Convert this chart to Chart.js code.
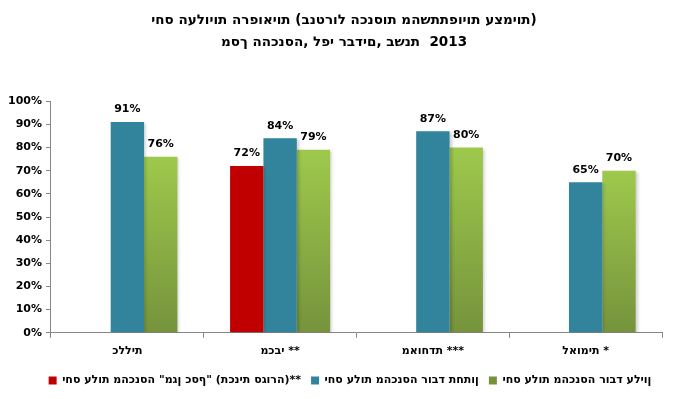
<!DOCTYPE html>
<html lang="he">
<head>
<meta charset="utf-8">
<script src="https://cdn.jsdelivr.net/npm/chart.js@4"></script>
<style>
  body { margin: 0; background: #fff; }
  #wrap { width: 695px; height: 399px; position: relative; }
</style>
</head>
<body>
<div id="wrap"><canvas id="chart"></canvas></div>
<script>
const categories = ["כללית", "מכבי **", "מאוחדת ***", "לאומית *"];
const silverValues = [null, 72, null, null];
const lowerValues = [91, 84, 87, 65];
const upperValues = [76, 79, 80, 70];
const yTicks = [0, 10, 20, 30, 40, 50, 60, 70, 80, 90, 100];

const titleLines = [
  "יחס העלויות הרפואיות (בנטרול הכנסות מהשתתפויות עצמיות)",
  "מסך ההכנסה, לפי רבדים, בשנת  2013"
];
const seriesNames = [
  "יחס עלות מהכנסה \"מגן כסף\" (תכנית סגורה)**",
  "יחס עלות מהכנסה רובד תחתון",
  "יחס עלות מהכנסה רובד עליון"
];

const FONT = "'DejaVu Sans', Verdana, sans-serif";

// the source chart shows the Hebrew glyphs left to right, so force that order
const ltr = s => "\u202D" + s + "\u202C";

// soft shadow behind the bars
const barShadow = {
  id: "barShadow",
  beforeDatasetsDraw(chart) {
    const ctx = chart.ctx;
    ctx.save();
    ctx.shadowColor = "rgba(0,0,0,0.2)";
    ctx.shadowBlur = 3;
    ctx.shadowOffsetX = 2;
    ctx.shadowOffsetY = 1;
  },
  afterDatasetsDraw(chart) {
    chart.ctx.restore();
  }
};

// title and legend sit a bit right of the plot centre in the source
const nudge = {
  id: "nudge",
  afterLayout(chart) {
    chart.titleBlock.left += 11;
    chart.titleBlock.right += 11;
    chart.legend.left += 17;
    chart.legend.right += 17;
  }
};

// value labels above each bar
const barLabels = {
  id: "barLabels",
  afterDatasetsDraw(chart) {
    const ctx = chart.ctx;
    ctx.save();
    ctx.font = "bold 11px " + FONT;
    ctx.fillStyle = "#000";
    ctx.textAlign = "center";
    ctx.textBaseline = "bottom";
    chart.data.datasets.forEach((ds, i) => {
      chart.getDatasetMeta(i).data.forEach((bar, j) => {
        const v = ds.data[j];
        if (v == null) return;
        ctx.fillText(v + "%", bar.x, bar.y - 7);
      });
    });
    ctx.restore();
  }
};

function greenGradient(context) {
  const chart = context.chart;
  const area = chart.chartArea;
  if (!area) return "#8db543";
  const v = context.raw;
  const top = chart.scales.y.getPixelForValue(v == null ? 0 : v);
  const g = chart.ctx.createLinearGradient(0, top, 0, area.bottom);
  g.addColorStop(0, "#9ec94c");
  g.addColorStop(1, "#76933c");
  return g;
}

new Chart(document.getElementById("chart"), {
  type: "bar",
  data: {
    labels: categories.map(ltr),
    datasets: [
      { label: ltr(seriesNames[0]), data: silverValues, backgroundColor: "#c00000" },
      { label: ltr(seriesNames[1]), data: lowerValues, backgroundColor: "#31849b" },
      { label: ltr(seriesNames[2]), data: upperValues, backgroundColor: greenGradient }
    ]
  },
  options: {
    responsive: true,
    maintainAspectRatio: false,
    animation: false,
    layout: { padding: { left: 4, right: 33, top: 6, bottom: 3 } },
    datasets: {
      bar: { barPercentage: 1, categoryPercentage: 0.655 }
    },
    scales: {
      x: {
        grid: {
          offset: true,
          drawOnChartArea: false,
          drawTicks: true,
          tickLength: 5,
          color: "#878787"
        },
        border: { color: "#878787" },
        ticks: {
          color: "#000",
          font: { family: FONT, size: 11, weight: "bold" },
          padding: 7
        }
      },
      y: {
        min: 0,
        max: 100,
        afterBuildTicks(axis) {
          axis.ticks = yTicks.map(v => ({ value: v }));
        },
        grid: {
          drawOnChartArea: false,
          drawTicks: true,
          tickLength: 5,
          color: "#878787"
        },
        border: { color: "#878787" },
        ticks: {
          color: "#000",
          font: { family: FONT, size: 11, weight: "bold" },
          padding: 4,
          callback: v => v + "%"
        }
      }
    },
    plugins: {
      title: {
        display: true,
        text: titleLines.map(ltr),
        color: "#000",
        font: { family: FONT, size: 13.5, weight: "bold", lineHeight: 1.6 },
        padding: { top: 4, bottom: 48 }
      },
      legend: {
        position: "bottom",
        labels: {
          color: "#000",
          font: { family: FONT, size: 11, weight: "bold" },
          boxWidth: 8,
          boxHeight: 8,
          padding: 10
        }
      },
      tooltip: { enabled: false }
    }
  },
  plugins: [barShadow, nudge, barLabels]
});
</script>
</body>
</html>
